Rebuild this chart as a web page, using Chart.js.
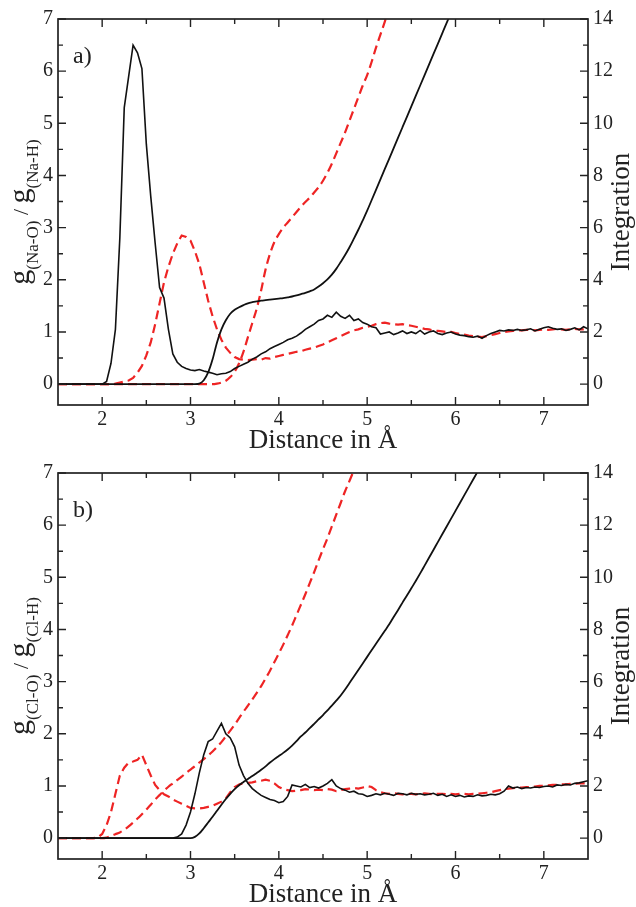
<!DOCTYPE html>
<html>
<head>
<meta charset="utf-8">
<script src="https://cdn.jsdelivr.net/npm/chart.js@4.4.1/dist/chart.umd.min.js"></script>
<style>
  body { margin: 0; background: #fff; }
  canvas { position: absolute; left: 0; }
</style>
</head>
<body>
<canvas id="panelA" width="636" height="453" style="top:0"></canvas>
<canvas id="panelB" width="636" height="454" style="top:453px"></canvas>
<script>
// distance grid (Angstrom)
const distance = [
  1.5, 1.55, 1.6, 1.65, 1.7, 1.75, 1.8, 1.85, 1.9, 1.95,
  2.0, 2.05, 2.1, 2.15, 2.2, 2.25, 2.3, 2.35, 2.4, 2.45,
  2.5, 2.55, 2.6, 2.65, 2.7, 2.75, 2.8, 2.85, 2.9, 2.95,
  3.0, 3.05, 3.1, 3.15, 3.2, 3.25, 3.3, 3.35, 3.4, 3.45,
  3.5, 3.55, 3.6, 3.65, 3.7, 3.75, 3.8, 3.85, 3.9, 3.95,
  4.0, 4.05, 4.1, 4.15, 4.2, 4.25, 4.3, 4.35, 4.4, 4.45,
  4.5, 4.55, 4.6, 4.65, 4.7, 4.75, 4.8, 4.85, 4.9, 4.95,
  5.0, 5.05, 5.1, 5.15, 5.2, 5.25, 5.3, 5.35, 5.4, 5.45,
  5.5, 5.55, 5.6, 5.65, 5.7, 5.75, 5.8, 5.85, 5.9, 5.95,
  6.0, 6.05, 6.1, 6.15, 6.2, 6.25, 6.3, 6.35, 6.4, 6.45,
  6.5, 6.55, 6.6, 6.65, 6.7, 6.75, 6.8, 6.85, 6.9, 6.95,
  7.0, 7.05, 7.1, 7.15, 7.2, 7.25, 7.3, 7.35, 7.4, 7.45,
  7.5
];

// panel a) Na
const gNaO = [
  0, 0, 0, 0, 0, 0, 0, 0, 0, 0,
  0, 0.05, 0.4, 1.05, 2.8, 5.3, 5.9, 6.5, 6.35, 6.05,
  4.6, 3.6, 2.7, 1.85, 1.65, 1.05, 0.58, 0.42, 0.34, 0.3,
  0.27, 0.26, 0.28, 0.25, 0.23, 0.21, 0.18, 0.2, 0.21, 0.24,
  0.3, 0.34, 0.38, 0.42, 0.48, 0.52, 0.58, 0.62, 0.68, 0.72,
  0.76, 0.8, 0.85, 0.88, 0.92, 0.98, 1.05, 1.1, 1.15, 1.22,
  1.25, 1.32, 1.28, 1.38, 1.3, 1.26, 1.32, 1.22, 1.25, 1.18,
  1.15, 1.1, 1.08, 0.96, 0.98, 1.0, 0.95, 0.98, 1.02, 0.97,
  1.0, 0.97, 1.03, 0.96, 1.0, 1.02, 0.97, 0.95, 0.98, 1.0,
  0.96, 0.94, 0.93, 0.91, 0.9, 0.92, 0.88, 0.93, 0.97, 1.0,
  1.03, 1.02, 1.04, 1.03, 1.05, 1.03, 1.04, 1.06, 1.02, 1.05,
  1.08, 1.1, 1.07, 1.05, 1.06, 1.03, 1.05, 1.08, 1.04, 1.1,
  1.06
];
const gNaH = [
  0, 0, 0, 0, 0, 0, 0, 0, 0, 0,
  0, 0, 0, 0.01, 0.03, 0.05, 0.07, 0.12, 0.22, 0.35,
  0.55, 0.8, 1.15, 1.55, 1.95, 2.25, 2.5, 2.7, 2.85, 2.82,
  2.75, 2.55, 2.3, 1.95, 1.6, 1.3, 1.05, 0.85, 0.7, 0.6,
  0.52, 0.48, 0.47, 0.46, 0.47, 0.48, 0.47, 0.5, 0.49, 0.52,
  0.54, 0.56, 0.58, 0.6, 0.62, 0.63, 0.66, 0.68, 0.7, 0.73,
  0.76, 0.8, 0.84, 0.88, 0.92, 0.96, 1.0, 1.03, 1.05, 1.08,
  1.1, 1.12, 1.15, 1.17, 1.18, 1.16, 1.15, 1.14, 1.15, 1.13,
  1.12, 1.1, 1.08, 1.06, 1.05, 1.03, 1.02, 1.01, 1.0, 1.0,
  0.98, 0.96, 0.95, 0.93, 0.92, 0.91, 0.9, 0.92, 0.94, 0.96,
  0.98, 1.0, 1.01, 1.02, 1.03, 1.03, 1.04, 1.04, 1.03, 1.04,
  1.05, 1.04, 1.05, 1.06, 1.05, 1.04, 1.05, 1.06, 1.05, 1.05,
  1.05
];
const intNaO = [
  0, 0, 0, 0, 0, 0, 0, 0, 0, 0,
  0, 0, 0, 0, 0, 0, 0, 0, 0, 0,
  0, 0, 0, 0, 0, 0, 0, 0, 0, 0,
  0, 0, 0.02, 0.15, 0.45, 0.95, 1.6, 2.1, 2.45, 2.7,
  2.85, 2.95, 3.03, 3.1, 3.14, 3.17, 3.2, 3.22, 3.24, 3.26,
  3.28, 3.3, 3.33, 3.36, 3.4, 3.45, 3.5, 3.56, 3.63, 3.74,
  3.87, 4.02, 4.2, 4.42, 4.68, 4.95, 5.25, 5.58, 5.92, 6.28,
  6.65, 7.05, 7.45, 7.85, 8.25, 8.65, 9.05, 9.45, 9.85, 10.25,
  10.65, 11.05, 11.45, 11.85, 12.25, 12.65, 13.05, 13.45, 13.85, 14.25
];
const intNaH = [
  0, 0, 0, 0, 0, 0, 0, 0, 0, 0,
  0, 0, 0, 0, 0, 0, 0, 0, 0, 0,
  0, 0, 0, 0, 0, 0, 0, 0, 0, 0,
  0, 0, 0, 0, 0, 0, 0.02, 0.06, 0.13, 0.27,
  0.48, 0.8, 1.25, 1.8, 2.35, 2.9, 3.6, 4.4, 5.0, 5.45,
  5.75, 6.0, 6.2, 6.4, 6.6, 6.8, 6.98, 7.15, 7.35, 7.55,
  7.8, 8.1, 8.45, 8.85, 9.25, 9.65, 10.1, 10.55, 11.0, 11.45,
  11.85, 12.35, 12.9, 13.4, 13.9, 14.45
];

// panel b) Cl
const gClO = [
  0, 0, 0, 0, 0, 0, 0, 0, 0, 0,
  0, 0, 0, 0, 0, 0, 0, 0, 0, 0,
  0, 0, 0, 0, 0, 0, 0, 0.02, 0.08, 0.25,
  0.5, 0.85, 1.25, 1.6, 1.85, 1.9, 2.05, 2.2, 2.0, 1.92,
  1.75, 1.4, 1.2, 1.05, 0.95, 0.88, 0.82, 0.78, 0.74, 0.72,
  0.68, 0.7, 0.8, 1.02, 1.0, 0.98, 1.03, 0.97, 0.99, 0.96,
  1.0, 1.05, 1.12, 1.0, 0.95, 0.92, 0.88, 0.9, 0.85, 0.84,
  0.8, 0.82, 0.85, 0.83, 0.86, 0.84, 0.82, 0.86, 0.85, 0.83,
  0.86, 0.84, 0.85, 0.83, 0.84, 0.86, 0.82, 0.84, 0.8, 0.83,
  0.8, 0.82, 0.79, 0.81, 0.8, 0.83, 0.81, 0.82, 0.84, 0.83,
  0.85, 0.9, 1.0, 0.96, 0.98, 0.95, 0.97, 0.96, 0.98, 0.97,
  0.99, 1.0, 0.98, 1.02, 1.01, 1.03, 1.02, 1.05, 1.06, 1.08,
  1.1
];
const gClH = [
  0, 0, 0, 0, 0, 0, 0, 0, 0, 0.01,
  0.08, 0.25, 0.5, 0.85, 1.2, 1.35, 1.45, 1.47, 1.5, 1.6,
  1.4, 1.2, 1.02, 0.92, 0.84, 0.8, 0.74, 0.7, 0.66, 0.62,
  0.58, 0.57, 0.57, 0.58, 0.6, 0.62, 0.66, 0.7, 0.76, 0.88,
  0.98, 1.03, 1.05, 1.06, 1.07, 1.09, 1.1, 1.12, 1.1, 1.05,
  0.98, 0.94, 0.92, 0.9, 0.91, 0.92, 0.94, 0.93, 0.92, 0.93,
  0.92, 0.94, 0.93, 0.9, 0.92, 0.94, 0.95, 0.96, 0.95, 0.97,
  1.0, 0.98, 0.92, 0.88, 0.86, 0.85, 0.86, 0.85, 0.84, 0.85,
  0.85, 0.84, 0.85, 0.86, 0.85, 0.84, 0.85, 0.85, 0.84, 0.85,
  0.84, 0.85, 0.85, 0.84, 0.85, 0.85, 0.86, 0.87, 0.88, 0.9,
  0.92, 0.94, 0.95, 0.96, 0.97, 0.97, 0.98, 0.98, 0.99, 1.0,
  1.0, 1.01, 1.02, 1.02, 1.03, 1.03, 1.04, 1.04, 1.05, 1.05,
  1.05
];
const intClO = [
  0, 0, 0, 0, 0, 0, 0, 0, 0, 0,
  0, 0, 0, 0, 0, 0, 0, 0, 0, 0,
  0, 0, 0, 0, 0, 0, 0, 0, 0, 0,
  0, 0.05, 0.18, 0.38, 0.6, 0.82, 1.05, 1.28, 1.5, 1.7,
  1.88, 2.03, 2.15, 2.27, 2.38, 2.5, 2.62, 2.75, 2.9, 3.03,
  3.15, 3.27, 3.4, 3.55, 3.72, 3.9, 4.05, 4.22, 4.38, 4.55,
  4.72, 4.9, 5.08, 5.27, 5.47, 5.7, 5.95, 6.2, 6.45, 6.7,
  6.95, 7.2, 7.45, 7.7, 7.95, 8.2, 8.48, 8.75, 9.03, 9.3,
  9.58, 9.86, 10.15, 10.45, 10.75, 11.05, 11.35, 11.65, 11.95, 12.25,
  12.55, 12.85, 13.15, 13.45, 13.75, 14.05, 14.35
];
const intClH = [
  0, 0, 0, 0, 0, 0, 0, 0, 0, 0,
  0, 0.02, 0.08, 0.15, 0.22, 0.32, 0.45, 0.6, 0.75, 0.92,
  1.1, 1.28, 1.48, 1.65, 1.82, 1.97, 2.1, 2.23, 2.36, 2.5,
  2.63, 2.76, 2.9, 3.03, 3.17, 3.32, 3.5, 3.68, 3.9, 4.12,
  4.35, 4.6, 4.85, 5.08, 5.32, 5.57, 5.83, 6.12, 6.42, 6.75,
  7.08, 7.42, 7.78, 8.15, 8.55, 8.95, 9.35, 9.78, 10.2, 10.65,
  11.08, 11.5, 11.95, 12.4, 12.85, 13.3, 13.7, 14.1, 14.5
];

// ticks
const xLabels = [2, 3, 4, 5, 6, 7];
const xMinor = [2.5, 3.5, 4.5, 5.5, 6.5];
const gLabels = [0, 1, 2, 3, 4, 5, 6, 7];
const gMinor = [0.5, 1.5, 2.5, 3.5, 4.5, 5.5, 6.5];
const intLabels = [0, 2, 4, 6, 8, 10, 12, 14];
const intMinor = [1, 3, 5, 7, 9, 11, 13];

const SERIF = "'Liberation Serif', 'DejaVu Serif', serif";
const INK = '#222';
const RED = '#ee2424';

Chart.defaults.font.family = SERIF;
Chart.defaults.color = INK;

const pts = ys => ys.map((y, i) => ({ x: distance[i], y: y }));

// frame, inward ticks and all titles
const decor = {
  id: 'decor',
  afterDatasetsDraw(chart, args, o) {
    const { ctx, chartArea: a, scales } = chart;
    const { x, y, y2 } = scales;
    ctx.save();
    ctx.strokeStyle = INK;
    ctx.lineWidth = 1.7;
    ctx.strokeRect(a.left, a.top, a.right - a.left, a.bottom - a.top);

    ctx.lineWidth = 1.4;
    ctx.beginPath();
    const tx = (v, len) => {
      const p = x.getPixelForValue(v);
      ctx.moveTo(p, a.bottom); ctx.lineTo(p, a.bottom - len);
      ctx.moveTo(p, a.top); ctx.lineTo(p, a.top + len);
    };
    xLabels.forEach(v => tx(v, 8));
    xMinor.forEach(v => tx(v, 5));
    const tl = (v, len) => {
      const p = y.getPixelForValue(v);
      ctx.moveTo(a.left, p); ctx.lineTo(a.left + len, p);
    };
    gLabels.forEach(v => tl(v, 8));
    gMinor.forEach(v => tl(v, 5));
    const tr = (v, len) => {
      const p = y2.getPixelForValue(v);
      ctx.moveTo(a.right, p); ctx.lineTo(a.right - len, p);
    };
    intLabels.forEach(v => tr(v, 8));
    intMinor.forEach(v => tr(v, 5));
    ctx.stroke();

    ctx.fillStyle = INK;
    ctx.textBaseline = 'alphabetic';

    // panel label
    ctx.font = '24px ' + SERIF;
    ctx.textAlign = 'left';
    ctx.fillText(o.label, a.left + 15, a.top + 44);

    // x title
    ctx.font = '27px ' + SERIF;
    ctx.textAlign = 'center';
    ctx.fillText('Distance in Å', (a.left + a.right) / 2, a.bottom + 43);

    const cy = (a.top + a.bottom) / 2;

    // right title
    ctx.save();
    ctx.translate(629, cy);
    ctx.rotate(-Math.PI / 2);
    ctx.fillText('Integration', 0, 0);
    ctx.restore();

    // left title with subscripts
    const parts = [
      { t: 'g', size: 30, dy: 0 },
      { t: o.subO, size: 17, dy: 9 },
      { t: ' / ', size: 22, dy: -1 },
      { t: 'g', size: 30, dy: 0 },
      { t: o.subH, size: 17, dy: 9 }
    ];
    ctx.save();
    ctx.translate(29, cy);
    ctx.rotate(-Math.PI / 2);
    ctx.textAlign = 'left';
    let total = 0;
    parts.forEach(p => { ctx.font = p.size + 'px ' + SERIF; p.w = ctx.measureText(p.t).width; total += p.w; });
    let cur = -total / 2;
    parts.forEach(p => {
      ctx.font = p.size + 'px ' + SERIF;
      ctx.fillText(p.t, cur, p.dy);
      cur += p.w;
    });
    ctx.restore();

    ctx.restore();
  }
};

function makePanel(id, label, subO, subH, gO, gH, nO, nH, padTop) {
  const tickFont = { family: SERIF, size: 20 };
  new Chart(document.getElementById(id), {
    type: 'line',
    data: {
      datasets: [
        { data: pts(gO), yAxisID: 'y', borderColor: '#111', borderWidth: 1.6 },
        { data: pts(nO), yAxisID: 'y2', borderColor: '#111', borderWidth: 1.8, cubicInterpolationMode: 'monotone' },
        { data: pts(gH), yAxisID: 'y', borderColor: RED, borderWidth: 2.2, borderDash: [9, 5] },
        { data: pts(nH), yAxisID: 'y2', borderColor: RED, borderWidth: 2.2, borderDash: [9, 5], cubicInterpolationMode: 'monotone' }
      ]
    },
    options: {
      responsive: false,
      animation: false,
      layout: { padding: { top: padTop, left: 0, right: 0, bottom: 0 } },
      elements: { point: { radius: 0 }, line: { tension: 0, fill: false } },
      plugins: { legend: { display: false }, tooltip: { enabled: false }, decor: { label, subO, subH } },
      scales: {
        x: {
          type: 'linear', min: 1.5, max: 7.5,
          grid: { display: false, drawTicks: false }, border: { display: false },
          ticks: { font: tickFont, color: INK, padding: 3 },
          afterBuildTicks: s => { s.ticks = xLabels.map(v => ({ value: v })); },
          afterFit: s => { s.height = 48; }
        },
        y: {
          position: 'left', min: -0.4, max: 7,
          grid: { display: false, drawTicks: false }, border: { display: false },
          ticks: { font: tickFont, color: INK, padding: 5 },
          afterBuildTicks: s => { s.ticks = gLabels.map(v => ({ value: v })); },
          afterFit: s => { s.width = 58; }
        },
        y2: {
          position: 'right', min: -0.8, max: 14,
          grid: { display: false, drawTicks: false }, border: { display: false },
          ticks: { font: tickFont, color: INK, padding: 5 },
          afterBuildTicks: s => { s.ticks = intLabels.map(v => ({ value: v })); },
          afterFit: s => { s.width = 48; }
        }
      }
    },
    plugins: [decor]
  });
}

makePanel('panelA', 'a)', '(Na-O)', '(Na-H)', gNaO, gNaH, intNaO, intNaH, 19);
makePanel('panelB', 'b)', '(Cl-O)', '(Cl-H)', gClO, gClH, intClO, intClH, 20);
</script>
</body>
</html>
